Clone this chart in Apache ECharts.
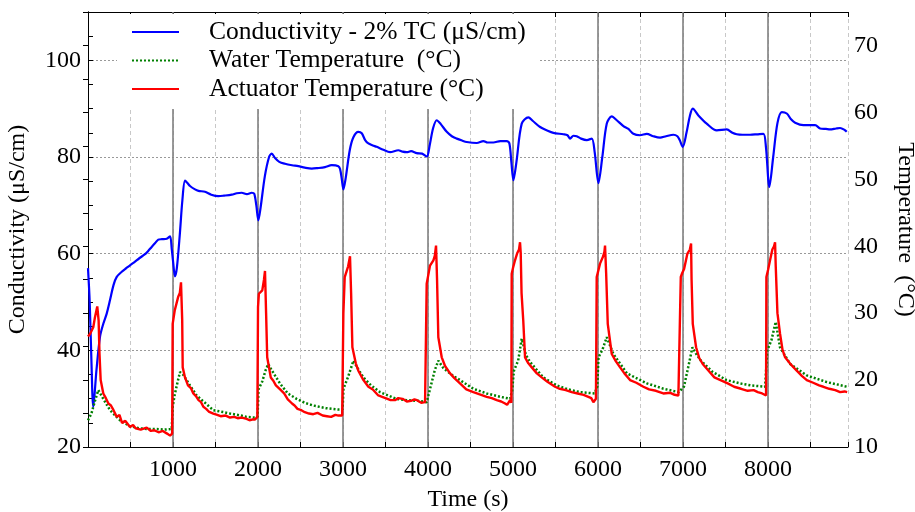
<!DOCTYPE html>
<html>
<head>
<meta charset="utf-8">
<script src="https://cdn.jsdelivr.net/npm/echarts@6/dist/echarts.min.js"></script>
<style>html,body{margin:0;padding:0;background:#fff}#c{width:915px;height:512px}</style>
</head>
<body>
<div id="c"></div>
<script>
// ---- data ----
var condTime = [0,20,40,62,100,141,180,220,259,300,338,400,450,494,550,600,671,710,749,790,827,870,926,965,985,1000,1023,1045,1080,1110,1141,1170,1200,1259,1300,1376,1450,1533,1600,1691,1750,1808,1870,1926,1955,1980,2004,2030,2080,2130,2161,2200,2250,2318,2400,2474,2550,2632,2700,2788,2867,2945,2965,2985,3004,3030,3080,3122,3180,3220,3260,3298,3350,3396,3474,3553,3651,3700,3749,3800,3867,3930,3985,4020,4060,4102,4150,4220,4280,4338,4400,4455,4573,4651,4700,4769,4850,4926,4957,4980,5004,5040,5102,5180,5230,5318,5400,5474,5592,5640,5671,5710,5749,5800,5867,5926,5960,6004,6050,6102,6161,6220,6298,6357,6415,6494,6573,6650,6729,6800,6886,6933,6960,6996,7040,7080,7114,7180,7278,7396,7514,7580,7631,7700,7788,7870,7945,7975,8015,8060,8110,8161,8220,8270,8318,8415,8553,8612,8680,8729,8800,8847,8900,8925];
var condValues = [57,50,38,28.3,36,42.8,45.5,47.6,50.4,53.5,55.2,56.3,57,57.6,58.3,59.0,59.9,60.6,61.4,62.2,62.9,63.0,63.1,63.6,61,58.5,55.3,57,64,71,75.1,74.6,74.0,73.3,73.0,72.8,72.2,71.9,72.0,72.2,72.5,72.6,72.3,72.6,72.4,70,66.9,69.5,76,80.0,80.7,79.8,79.0,78.6,78.3,78.1,77.8,77.6,77.7,77.9,78.3,78.1,77.5,75.5,73.3,75.5,81.5,84.1,85.2,84.9,83.5,82.8,82.4,82.1,81.5,81.0,81.4,81.1,81.0,81.2,80.8,80.7,80.1,82.5,86,87.6,86.8,85.2,84.3,83.8,83.4,83.1,82.9,83.3,83.0,83.0,83.3,83.3,82.8,79,75.2,79,86.9,88.2,87.5,86.2,85.5,85.0,84.7,84.5,83.8,84.4,84.3,83.8,83.5,83.8,81,74.6,80,86.9,88.4,87.6,86.4,85.8,84.8,84.5,84.8,84.3,84.0,84.3,84.6,84.3,83.5,82.1,85,88.5,90.0,88.6,86.9,85.5,85.7,85.0,84.7,84.6,84.6,84.7,84.8,82,73.8,80,87,89.3,89.0,87.8,87.1,86.6,86.6,85.9,85.8,85.7,85.9,86.0,85.6,85.2];

var waterTime = [0,40,80,121,180,259,376,494,600,690,800,900,985,996,1020,1050,1082,1120,1160,1200,1278,1350,1474,1600,1670,1800,1866,1960,1995,2005,2050,2090,2121,2160,2258,2350,2454,2550,2650,2800,2945,2995,3005,3060,3122,3170,3239,3330,3435,3550,3630,3750,3880,3984,4000,4040,4080,4121,4180,4219,4300,4376,4533,4690,4850,4965,4990,5010,5060,5102,5150,5200,5356,5513,5650,5788,5960,5990,6005,6050,6102,6180,6340,6575,6700,6770,6950,6973,7010,7060,7110,7150,7210,7350,7512,7670,7800,7965,7980,7990,8040,8090,8140,8260,8455,8690,8930];
var waterValues = [14.0,15.0,16.8,18.5,17.2,15.5,14.0,13.1,12.8,12.7,12.7,12.6,12.7,16,17.8,19.5,21.2,20.8,20.0,19.2,17.7,16.9,15.5,15.2,15.0,14.7,14.5,14.4,14.5,18.6,19.8,21.5,22.4,21.5,19.5,18.0,17.2,16.6,16.2,15.8,15.6,15.6,18.7,20.5,22.9,21.8,20.4,19.2,18.2,17.6,17.2,17.0,16.9,16.7,16.8,19.5,21.5,22.9,21.8,21.4,20.6,20.0,18.7,18.0,17.5,17.2,18.5,21.4,22.9,26.2,23.8,22.7,20.4,19.2,18.6,18.2,18.0,19.0,23.4,24.5,26.4,23.9,21.0,19.5,19.0,18.7,18.2,18.2,19.0,21.9,24.9,24.0,22.9,21.2,20.0,19.5,19.2,19.0,19.0,24.4,26,28.7,24.9,22.4,20.7,19.7,19.0];

var actTime = [0,24,62,82,109,125,135,149,180,210,240,270,300,338,370,400,440,494,530,560,620,690,740,780,830,880,930,965,990,
 996,1020,1060,1080,1094,1108,1114,1141,1176,1210,1239,1270,1300,1330,1357,1390,1420,1474,1520,1560,1620,1670,1720,1760,1810,1866,1900,1930,1965,1985,
 1992,2000,2010,2050,2070,2082,2095,2108,2150,2180,2210,2260,2307,2350,2400,2430,2464,2510,2550,2600,2650,2700,2760,2810,2860,2910,2945,2990,
 2996,3004,3020,3060,3082,3095,3110,3150,3180,3240,3298,3350,3415,3460,3500,3560,3611,3650,3700,3750,3800,3840,3870,3920,3965,3980,
 3984,4000,4023,4063,4080,4094,4106,4121,4161,4200,4259,4310,4376,4450,4533,4600,4690,4750,4808,4860,4906,4930,4965,4980,
 4984,5000,5023,5050,5070,5082,5090,5100,5120,5141,5180,5220,5280,5337,5400,5494,5550,5620,5690,5760,5830,5886,5920,5945,5975,
 5984,6000,6023,6060,6075,6082,6095,6114,6161,6210,6259,6310,6376,6450,6533,6600,6680,6768,6850,6900,6945,6965,
 6973,6990,7012,7051,7080,7094,7100,7114,7153,7190,7231,7300,7368,7440,7525,7600,7682,7760,7830,7879,7930,7976,
 7980,8000,8023,8050,8070,8082,8090,8110,8141,8170,8200,8270,8337,8400,8455,8530,8600,8651,8720,8790,8847,8900,8930];
var actValues = [26.5,26.9,27.9,29.4,31.0,28.9,24,20.0,18.0,17.3,16.5,16.2,15.5,14.5,14.8,13.6,13.9,13.0,13.3,12.8,12.6,12.9,12.4,12.5,12.2,12.4,12.0,11.7,12.0,
 28.4,30.4,32.4,33.0,34.6,29,21.9,20.4,19.2,18.8,18.0,17.6,17.0,16.7,16.0,15.7,15.3,15.0,14.8,14.6,14.7,14.4,14.5,14.3,14.4,14.2,14.0,14.1,14.1,14.0,
 14.5,30.9,32.9,33.4,35.0,36.3,30,23.4,20.4,19.9,19.2,18.6,18.0,17.1,16.5,16.2,15.7,15.5,15.2,15.0,14.9,15.1,14.7,14.6,14.5,14.8,14.7,14.7,
 14.8,30,35.4,37.0,38.5,33,24.9,22.5,21.4,20.0,19.0,18.6,17.7,17.5,17.3,17.0,17.0,17.3,17.2,16.8,16.9,17.1,17.0,16.6,16.7,16.8,
 34.4,35.5,37.1,37.9,38.6,40.1,35,26.4,23.4,22.1,21.0,20.3,19.5,18.6,18.2,17.9,17.5,17.3,17.0,16.8,16.5,16.3,17.0,16.6,
 35.9,36.8,37.9,39.0,39.5,40.6,39,33,28.9,23.4,22.5,21.9,21.0,20.4,19.8,19.0,18.7,18.5,18.2,18.0,17.8,17.5,17.3,16.7,17.2,
 35.4,36.2,37.4,38.5,39.2,40.1,36,28.4,23.9,22.8,21.9,21.0,20.0,19.6,19.0,18.6,18.4,18.0,18.1,17.8,17.7,17.5,
 35.4,36.0,36.6,38.9,39.5,40.4,35,28.4,24.9,23.3,22.4,21.4,20.4,20.0,19.5,19.0,18.7,18.4,18.5,18.2,18.0,17.7,
 35.4,36.5,37.9,39.5,40.0,40.6,37,30,26.9,24.5,23.4,22.3,21.4,20.6,20.0,19.6,19.2,19.0,18.7,18.5,18.2,18.3,18.2];

var cycleStarts = [1000,2000,3000,4000,5000,6000,7000,8000];
var legendNames = ['Conductivity - 2% TC (\u03bcS/cm)','Water Temperature  (\u00b0C)','Actuator Temperature (\u00b0C)'];

function zip(a,b){var r=[];for(var i=0;i<a.length;i++)r.push([a[i],b[i]]);return r;}

var FONT = 'Liberation Serif';
var chart = echarts.init(document.getElementById('c'), null, {renderer:'canvas'});
var axisLine = {show:true, lineStyle:{color:'#000', width:1}};
var tick = {show:true, inside:true, length:5, lineStyle:{color:'#000', width:1}};
var label = {color:'#000', fontFamily:FONT, fontSize:24};
var nameStyle = {color:'#000', fontFamily:FONT, fontSize:24};

chart.setOption({
  animation:false,
  backgroundColor:'#fff',
  grid:{left:88, right:67, top:12, bottom:65, containLabel:false, outerBoundsMode:'none'},
  legend:{
    data:legendNames, orient:'vertical', left:117, top:14,
    backgroundColor:'#fff', padding:[5,14,7,14], itemGap:2.5,
    itemWidth:47, itemHeight:14,
    itemStyle:{opacity:0},
    textStyle:{color:'#000', fontFamily:FONT, fontSize:25.5, lineHeight:24, padding:[0,0,0,25]}
  },
  xAxis:[
    {type:'value', min:0, max:8940, interval:500, position:'bottom',
     axisLine:axisLine, axisTick:tick,
     axisLabel:Object.assign({}, label, {margin:11, formatter:function(v){return (v>0 && v%1000===0)? String(v):'';}}),
     splitLine:{show:true, lineStyle:{color:'#c8c8c8', type:[4,3], width:1}},
     name:'Time (s)', nameLocation:'middle', nameGap:41, nameTextStyle:nameStyle},
    {type:'value', min:0, max:8940, interval:500, position:'top',
     axisLine:axisLine, axisTick:tick, axisLabel:{show:false}, splitLine:{show:false}}
  ],
  yAxis:[
    {type:'value', min:20, max:110, interval:5, position:'left',
     axisLine:axisLine, axisTick:tick,
     axisLabel:Object.assign({}, label, {margin:7, formatter:function(v){return (v%20===0)? String(v):'';}}),
     splitLine:{show:true, lineStyle:{color:['#999','transparent','transparent','transparent'], type:[2,2], width:1}},
     name:'Conductivity (\u03bcS/cm)', nameLocation:'middle', nameGap:58, nameRotate:90, nameTextStyle:nameStyle},
    {type:'value', min:10, max:75, interval:5, position:'right',
     axisLine:axisLine, axisTick:tick,
     axisLabel:Object.assign({}, label, {margin:6, formatter:function(v){return (v%10===0)? String(v):'';}}),
     splitLine:{show:false},
     name:'Temperature  (\u00b0C)', nameLocation:'middle', nameGap:45, nameRotate:-90, nameTextStyle:nameStyle}
  ],
  series:[
    {name:'cycles', type:'line', data:[], xAxisIndex:0, yAxisIndex:0, z:1, silent:true,
     markLine:{silent:true, z:1, symbol:['none','none'], label:{show:false},
       lineStyle:{color:'#808080', width:1.6, type:'solid'},
       data:cycleStarts.map(function(t){return {xAxis:t};})}},
    {name:legendNames[0], type:'line', data:zip(condTime,condValues), xAxisIndex:0, yAxisIndex:0,
     symbol:'none', smooth:0.3, lineStyle:{color:'#0000ff', width:2.2}, itemStyle:{color:'#0000ff'}, z:3},
    {name:legendNames[1], type:'line', data:zip(waterTime,waterValues), xAxisIndex:0, yAxisIndex:1,
     symbol:'none', lineStyle:{color:'#008000', width:2.5, type:[2,2]}, itemStyle:{color:'#008000'}, z:3},
    {name:legendNames[2], type:'line', data:zip(actTime,actValues), xAxisIndex:0, yAxisIndex:1,
     symbol:'none', lineStyle:{color:'#ff0000', width:2.4}, itemStyle:{color:'#ff0000'}, z:3}
  ]
});
</script>
</body>
</html>
